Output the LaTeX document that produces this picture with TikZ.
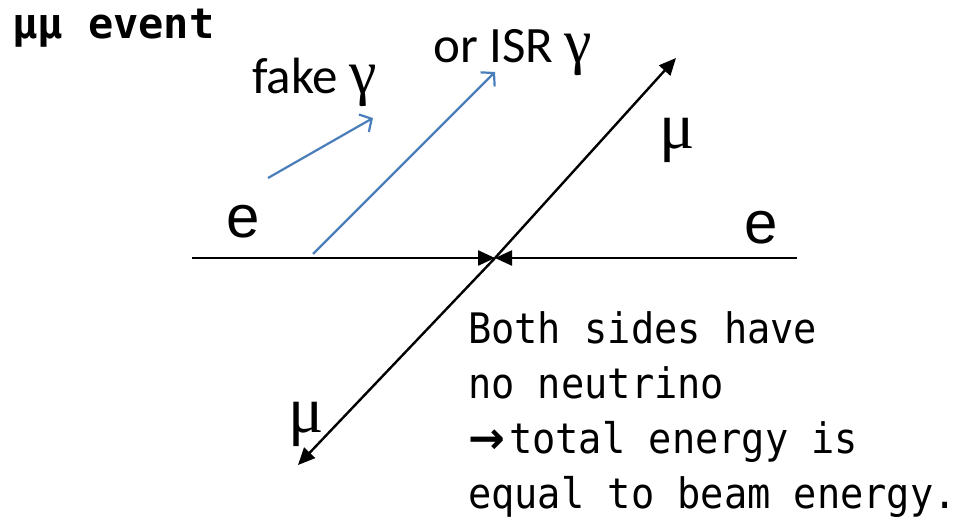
\documentclass[tikz,border=0pt]{standalone}
\usepackage{fontspec}
\setmainfont{Carlito}
\newfontfamily\monof[FakeStretch=0.92]{DejaVu Sans Mono}
\newfontfamily\titlef{DejaVu Sans Mono}
\newfontfamily\serifg{Liberation Serif}
\newfontfamily\arialf{Liberation Sans}
\newfontfamily\arrowf{DejaVu Sans}
\usetikzlibrary{arrows.meta}
\definecolor{gblue}{RGB}{74,126,187}
\tikzset{
  blk/.style={line width=2.4pt, black, -{Triangle[length=17pt,width=15pt]}},
  blu/.style={line width=2.2pt, gblue, -{Straight Barb[length=9pt,width=20pt]}},
  lbl/.style={anchor=base west, inner sep=0pt},
  note/.style={lbl, font=\monof\fontsize{42}{42}\selectfont},
}
\begin{document}
\begin{tikzpicture}[x=1pt,y=-1pt]
\useasboundingbox (0,0) rectangle (965,527);
% coordinates
\coordinate (c) at (495,258);
\coordinate (eL) at (192,258);
\coordinate (eR) at (797,258);
\coordinate (muU) at (676,58);
\coordinate (muD) at (298,465);
\coordinate (f0) at (268,178);
\coordinate (f1) at (373,118);
\coordinate (i0) at (313,254);
\coordinate (i1) at (495,72);
% connectors
\draw[blk] (eL) -- (c);
\draw[blk] (eR) -- (c);
\draw[blk] (c) -- (muU);
\draw[blk] (c) -- (muD);
\draw[blu] (f0) -- (f1);
\draw[blu] (i0) -- (i1);
% labels
\node[lbl, font=\titlef\bfseries\fontsize{42}{42}\selectfont] (title) at (12,38) {μμ event};
\node[lbl, font=\fontsize{51}{51}\selectfont] (fake) at (252,93) {fake {\serifg\fontsize{62}{62}\selectfont γ}};
\node[lbl, font=\fontsize{51}{51}\selectfont] (isr) at (433,63) {or ISR {\serifg\fontsize{62}{62}\selectfont γ}};
\node[lbl, font=\serifg\fontsize{66}{66}\selectfont] (mu1) at (659,148) {μ};
\node[lbl, font=\serifg\fontsize{66}{66}\selectfont] (mu2) at (288,432) {μ};
\node[lbl, font=\arialf\fontsize{60}{60}\selectfont] (e1) at (226,237) {e};
\node[lbl, font=\arialf\fontsize{60}{60}\selectfont] (e2) at (744,243) {e};
\node[note] (t1) at (468,343) {Both sides have};
\node[note] (t2) at (468,398) {no neutrino};
\node[note] (t3) at (468,453) {\makebox[41pt][l]{\arrowf\bfseries\fontsize{44}{44}\selectfont →}total energy is};
\node[note] (t4) at (468,508) {equal to beam energy.};
\end{tikzpicture}
\end{document}
